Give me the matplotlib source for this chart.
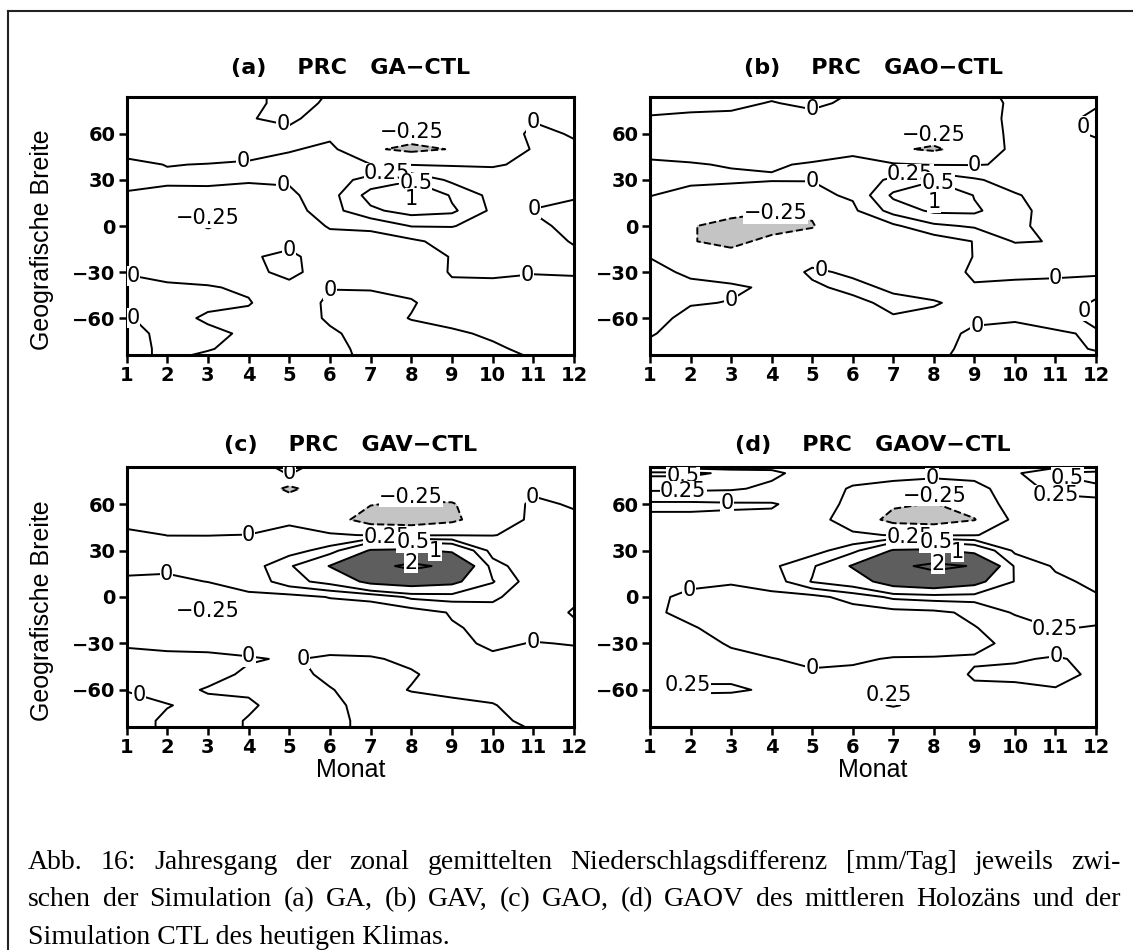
import warnings
import numpy as np
import matplotlib
matplotlib.use('Agg')
import matplotlib.pyplot as plt
from matplotlib.lines import Line2D

warnings.filterwarnings('ignore')

W, H = 1133, 950

months = list(range(1, 13))
lats = [84, 80, 70, 60, 50, 40, 30, 20, 10, 0, -10, -20, -30, -40, -50, -60, -70, -80, -84]

# PRC differences [mm/Tag], one list per month (Jan..Dec), latitudes from north to south
prc_ga = [
    [-0.05, -0.05, -0.05, -0.08, -0.06, 0.04, 0.08, -0.03, -0.08, -0.12, -0.1, -0.08, -0.01, 0.05, 0.06, -0.01, -0.05, -0.05, -0.05],
    [-0.05, -0.05, -0.06, -0.08, -0.07, -0.005, 0.03, -0.05, -0.12, -0.18, -0.14, -0.1, -0.04, 0.02, 0.06, 0.05, 0.04, 0.03, 0.03],
    [-0.05, -0.05, -0.06, -0.08, -0.08, 0.005, 0.04, -0.06, -0.18, -0.26, -0.2, -0.14, -0.06, 0.01, 0.03, -0.02, 0.03, 0.01, -0.02],
    [-0.04, -0.04, -0.01, -0.08, -0.06, 0.02, 0.02, -0.08, -0.15, -0.2, -0.15, -0.02, -0.03, -0.02, 0.01, -0.04, -0.02, -0.05, -0.05],
    [0.05, 0.05, 0.04, -0.05, -0.02, 0.08, 0.03, -0.05, -0.12, -0.15, -0.05, 0.04, 0.03, -0.03, -0.1, -0.08, -0.06, -0.05, -0.05],
    [-0.01, -0.02, -0.1, -0.05, 0.05, 0.1, 0.12, 0.15, 0.15, 0.02, -0.08, -0.1, -0.06, -0.005, 0.03, 0.02, -0.02, -0.04, -0.05],
    [-0.05, -0.05, -0.1, -0.12, -0.22, 0.005, 0.35, 0.6, 0.45, 0.05, -0.1, -0.12, -0.08, -0.01, 0.04, 0.05, 0.05, 0.04, 0.04],
    [-0.05, -0.05, -0.1, -0.15, -0.3, -0.01, 0.45, 1.06, 0.6, 0.26, -0.05, -0.1, -0.08, -0.03, 0.01, -0.005, 0.04, 0.04, 0.04],
    [-0.05, -0.05, -0.1, -0.12, -0.24, -0.02, 0.2, 0.45, 0.55, 0.26, 0.1, 0.01, 0.01, -0.02, -0.06, -0.04, 0.02, 0.04, 0.04],
    [-0.05, -0.05, -0.06, -0.1, -0.1, -0.02, 0.1, 0.18, 0.2, 0.16, 0.1, 0.06, 0.02, -0.03, -0.06, -0.05, -0.02, 0.02, 0.03],
    [-0.05, -0.05, -0.01, 0.03, 0.01, 0.04, 0.08, 0.08, -0.01, 0.05, 0.06, 0.04, 0.005, -0.03, -0.05, -0.05, -0.04, -0.03, -0.01],
    [-0.05, -0.05, -0.05, -0.01, 0.02, 0.04, 0.06, 0.02, -0.05, -0.06, -0.01, 0.03, 0.01, -0.03, -0.05, -0.05, -0.05, -0.05, -0.05],
]

prc_gao = [
    [0.05, 0.04, -0.01, -0.06, -0.06, 0.03, 0.06, 0.005, -0.06, -0.12, -0.1, -0.005, 0.05, 0.08, 0.08, 0.05, 0.01, -0.03, -0.04],
    [0.04, 0.03, -0.02, -0.06, -0.06, 0.01, 0.03, -0.05, -0.15, -0.24, -0.24, -0.15, -0.03, 0.04, 0.01, -0.04, -0.05, -0.05, -0.05],
    [0.03, 0.02, -0.02, -0.06, -0.07, -0.01, 0.03, -0.1, -0.2, -0.3, -0.3, -0.18, -0.06, 0.02, -0.005, -0.05, -0.05, -0.05, -0.05],
    [0.01, -0.005, -0.03, -0.06, -0.07, -0.01, 0.01, -0.12, -0.24, -0.32, -0.2, -0.12, -0.08, -0.02, -0.04, -0.05, -0.05, -0.05, -0.05],
    [0.03, 0.02, -0.03, -0.06, -0.05, 0.01, 0.005, -0.05, -0.23, -0.26, -0.18, -0.05, 0.02, -0.02, -0.05, -0.05, -0.05, -0.05, -0.05],
    [-0.01, -0.02, -0.04, -0.05, -0.04, 0.05, 0.1, 0.03, -0.05, -0.12, -0.1, -0.06, -0.02, 0.03, -0.03, -0.05, -0.05, -0.05, -0.05],
    [-0.05, -0.05, -0.06, -0.12, -0.22, 0.02, 0.3, 0.55, 0.35, -0.05, -0.1, -0.08, -0.04, -0.02, 0.03, -0.01, -0.05, -0.05, -0.05],
    [-0.05, -0.05, -0.08, -0.15, -0.28, -0.01, 0.45, 1.02, 0.55, 0.2, -0.15, -0.1, -0.07, -0.05, 0.01, -0.03, -0.04, -0.03, -0.02],
    [-0.05, -0.05, -0.06, -0.1, -0.15, -0.01, 0.28, 0.48, 0.55, 0.28, 0.01, 0.005, 0.02, -0.01, -0.04, -0.02, 0.02, 0.03, 0.03],
    [0.03, 0.02, 0.03, 0.04, 0.05, 0.02, 0.15, 0.27, 0.3, 0.28, 0.27, 0.05, 0.02, -0.02, -0.05, -0.01, 0.03, 0.03, 0.03],
    [0.03, 0.03, 0.03, 0.03, 0.05, 0.05, 0.1, 0.15, 0.18, 0.2, 0.24, 0.06, 0.02, -0.03, -0.05, -0.03, 0.01, 0.02, 0.02],
    [0.02, 0.01, -0.02, -0.01, 0.03, 0.05, 0.08, 0.1, 0.12, 0.12, 0.1, 0.05, 0.01, -0.03, 0.01, 0.02, -0.01, -0.005, 0.01],
]

prc_gav = [
    [-0.05, -0.05, -0.06, -0.08, -0.06, 0.04, 0.08, 0.05, -0.03, -0.1, -0.12, -0.1, -0.02, 0.05, 0.06, 0.005, -0.04, -0.05, -0.05],
    [-0.05, -0.05, -0.06, -0.08, -0.06, -0.002, 0.06, 0.05, -0.05, -0.15, -0.2, -0.15, -0.03, 0.03, 0.06, 0.04, -0.005, 0.02, 0.02],
    [-0.05, -0.05, -0.06, -0.08, -0.08, -0.002, 0.05, 0.04, 0.005, -0.15, -0.26, -0.18, -0.04, 0.03, 0.04, -0.01, 0.03, 0.03, 0.03],
    [-0.05, -0.05, -0.06, -0.08, -0.06, 0.002, 0.08, 0.12, 0.06, -0.03, -0.18, -0.15, -0.05, 0.01, -0.02, -0.01, 0.01, -0.005, -0.005],
    [0.03, 0.005, -0.3, -0.1, -0.03, 0.05, 0.15, 0.45, 0.4, -0.08, -0.18, -0.15, -0.08, -0.01, -0.03, -0.03, -0.03, -0.03, -0.03],
    [-0.05, -0.06, -0.1, -0.1, -0.15, 0.02, 0.35, 1.02, 0.6, 0.01, -0.12, -0.12, -0.06, 0.02, 0.02, -0.005, -0.02, -0.03, -0.03],
    [-0.05, -0.06, -0.1, -0.24, -0.35, -0.01, 1.05, 1.7, 1.15, 0.05, -0.12, -0.1, -0.05, 0.01, 0.04, 0.04, 0.03, 0.03, 0.03],
    [-0.05, -0.06, -0.1, -0.28, -0.38, -0.02, 1.1, 2.2, 1.3, 0.3, -0.12, -0.1, -0.06, -0.02, 0.01, -0.005, 0.04, 0.04, 0.04],
    [-0.05, -0.06, -0.1, -0.27, -0.3, -0.01, 0.9, 1.8, 1.15, 0.35, 0.02, -0.02, -0.03, -0.01, -0.04, -0.02, 0.02, 0.03, 0.03],
    [-0.05, -0.05, -0.06, -0.08, -0.1, -0.005, 0.15, 0.35, 0.52, 0.3, 0.15, 0.05, 0.02, -0.02, -0.05, -0.03, 0.005, 0.02, 0.02],
    [-0.05, -0.05, -0.02, 0.02, 0.03, 0.04, 0.06, 0.08, 0.1, 0.08, 0.06, 0.04, -0.005, -0.03, -0.05, -0.05, -0.04, -0.02, -0.005],
    [-0.05, -0.05, -0.04, -0.01, 0.02, 0.04, 0.05, 0.05, 0.04, 0.02, -0.01, 0.02, 0.005, -0.03, -0.05, -0.05, -0.05, -0.05, -0.05],
]

prc_gaov = [
    [0.2, 0.55, 0.3, -0.05, 0.05, 0.1, 0.12, 0.1, 0.08, 0.05, 0.04, 0.05, 0.08, 0.1, 0.15, 0.2, 0.15, 0.1, 0.1],
    [0.15, 0.55, 0.3, -0.05, 0.05, 0.1, 0.12, 0.12, 0.05, -0.05, -0.06, 0.02, 0.08, 0.1, 0.2, 0.28, 0.15, 0.1, 0.1],
    [0.1, 0.45, 0.28, -0.03, 0.05, 0.1, 0.12, 0.1, 0.02, -0.08, -0.1, -0.08, -0.02, 0.05, 0.2, 0.28, 0.12, 0.1, 0.1],
    [0.2, 0.3, 0.2, -0.02, 0.05, 0.1, 0.12, 0.2, 0.1, -0.06, -0.12, -0.1, -0.06, 0.005, 0.08, 0.22, 0.1, 0.08, 0.08],
    [0.1, 0.15, 0.1, 0.1, 0.08, 0.1, 0.15, 0.45, 0.52, -0.08, -0.15, -0.12, -0.08, -0.03, 0.02, 0.1, 0.12, 0.1, 0.1],
    [0.1, 0.08, -0.02, -0.05, -0.1, 0.03, 0.4, 1.05, 0.7, 0.1, -0.12, -0.12, -0.08, -0.02, 0.03, 0.15, 0.2, 0.15, 0.12],
    [0.1, 0.05, -0.05, -0.22, -0.32, -0.01, 1.05, 1.8, 1.3, 0.3, -0.08, -0.12, -0.08, 0.01, 0.08, 0.2, 0.26, 0.15, 0.12],
    [0.1, 0.04, -0.08, -0.26, -0.35, -0.02, 1.1, 2.2, 1.5, 0.35, -0.05, -0.12, -0.06, 0.01, 0.1, 0.2, 0.2, 0.15, 0.12],
    [0.1, 0.05, -0.05, -0.15, -0.26, -0.01, 0.8, 1.95, 1.2, 0.35, 0.05, -0.01, -0.05, 0.02, -0.02, 0.03, 0.15, 0.15, 0.12],
    [0.12, 0.2, 0.08, 0.1, 0.05, 0.08, 0.2, 0.45, 0.48, 0.4, 0.28, 0.1, 0.05, 0.02, -0.05, 0.05, 0.15, 0.15, 0.12],
    [0.2, 0.52, 0.35, 0.1, 0.05, 0.08, 0.15, 0.22, 0.3, 0.35, 0.3, 0.26, 0.1, -0.02, -0.05, 0.01, 0.1, 0.1, 0.1],
    [0.2, 0.6, 0.45, 0.1, 0.05, 0.08, 0.12, 0.15, 0.2, 0.27, 0.3, 0.24, 0.1, 0.05, 0.03, 0.05, 0.08, 0.1, 0.1],
]

titles = ['(a)    PRC   GA\u2212CTL', '(b)    PRC   GAO\u2212CTL',
          '(c)    PRC   GAV\u2212CTL', '(d)    PRC   GAOV\u2212CTL']
levels = [-0.25, 0, 0.25, 0.5, 1, 2]

# label positions (level, month, lat, shift of text in lat)
labels_a = [(0, 4.85, 66, 0), (0, 3.87, 40, 0), (0, 4.85, 28, 0), (0, 11.0, 68, 0),
            (0, 11.0, 15, 0), (0, 1.16, -32, 0), (0, 5.0, -15, 0), (0, 1.16, -60, 0),
            (0, 5.96, -40, 0), (0, 10.84, -31, 0),
            (-0.25, 8.0, 54, 8), (-0.25, 3.0, 1, 4),
            (0.25, 7.4, 37, 1), (0.5, 8.15, 31, 0), (1, 8.0, 20, -3)]
labels_b = [(0, 5.0, 75, 0), (0, 5.0, 29, 0), (0, 9.0, 39, 0), (0, 3.0, -48, 0),
            (0, 5.2, -31, 0), (0, 11.0, -33, 0), (0, 9.06, -62, 0), (0, 11.8, -57, 0),
            (0, 11.8, 66, 0),
            (-0.25, 8.0, 52, 7), (-0.25, 4.1, 9, 0),
            (0.25, 7.4, 38, 1), (0.5, 8.15, 32, 0), (1, 8.0, 20, -5)]
labels_c = [(0, 5.0, 82, 0), (0, 4.0, 40.4, 0), (0, 1.98, 14.8, 0), (0, 11.0, 64, 0),
            (0, 4.0, -39, 0), (0, 5.0, -39.6, 0), (0, 1.33, -61, 0), (0, 11.0, -29, 0),
            (-0.25, 8.0, 60, 3), (-0.25, 3.0, -10, 0),
            (0.25, 7.4, 38, 1), (0.5, 8.05, 36, 0), (1, 8.6, 33, 0), (2, 8.0, 21, 0)]
labels_d = [(0, 2.9, 62, 0), (0, 7.95, 77, 0), (0, 1.95, 6, 0), (0, 5.0, -46, 0),
            (0, 11.0, -40, 0),
            (0.5, 1.82, 79, 0), (0.5, 11.3, 78, 0), (0.25, 1.82, 69, 0), (0.25, 11.0, 66, 0),
            (0.25, 11.0, -20, 0), (0.25, 1.9, -55, 0), (0.25, 6.9, -70, 7),
            (-0.25, 8.0, 57, 5),
            (0.25, 7.4, 37, 1), (0.5, 8.05, 35, 0), (1, 8.6, 33, 0), (2, 8.1, 21, 0)]


def fmt(v):
    return ('%g' % v).replace('-', '\u2212')


def rect(l, t, r, b):
    return [l / W, 1 - b / H, (r - l) / W, (b - t) / H]


fig = plt.figure(figsize=(W / 100, H / 100), dpi=100)
fig.patch.set_facecolor('white')

panels = [
    (rect(126.5, 97, 574, 355), prc_ga, titles[0], 68, labels_a, True, False),
    (rect(650, 97, 1096, 355), prc_gao, titles[1], 68, labels_b, False, False),
    (rect(126.5, 467, 574, 727), prc_gav, titles[2], 445, labels_c, True, True),
    (rect(650, 467, 1096, 727), prc_gaov, titles[3], 445, labels_d, False, True),
]

ylat = lats[::-1]
for r, data, title, ty, specs, ylab, xlab in panels:
    ax = fig.add_axes(r)
    z = np.array(data).T[::-1]
    ax.contourf(months, ylat, z, levels=[-10, -0.25], colors=['#c4c4c4'])
    ax.contourf(months, ylat, z, levels=[1, 10], colors=['#5e5e5e'])
    ax.set_xlim(1, 12)
    ax.set_ylim(-84, 84)
    # one contour set per level, so each label goes to its own level
    sets = {}
    for lev in levels:
        sets[lev] = ax.contour(months, ylat, z, levels=[lev], colors='k', linewidths=1.4)
    ax.set_xlim(1, 12)
    ax.set_ylim(-84, 84)
    ax.set_xticks(months)
    ax.set_yticks([-60, -30, 0, 30, 60])
    ax.tick_params(direction='out', length=6, width=1.8, labelsize=14, pad=2,
                   top=False, right=False)
    for lab in ax.get_xticklabels() + ax.get_yticklabels():
        lab.set_fontweight('bold')
    for s in ax.spines.values():
        s.set_linewidth(2.2)

    for lev, x, y, dy in specs:
        before = list(ax.texts)
        try:
            sets[lev].clabel(manual=[(x, y)], inline=False, fmt=fmt, fontsize=15)
        except Exception:
            continue
        for t in ax.texts:
            if t in before:
                continue
            t.set_rotation(0)
            if dy:
                px, py = t.get_position()
                t.set_position((px, py + dy))
            t.set_bbox(dict(facecolor='white', edgecolor='none', pad=0.2))

    cx = (r[0] + r[2] / 2)
    fig.text(cx, 1 - ty / H, title, ha='center', va='center', fontsize=16,
             fontweight='bold')
    if ylab:
        fig.text(42 / W, r[1] + r[3] / 2 - 14 / H, 'Geografische Breite', rotation=90,
                 ha='center', va='center', fontsize=18, family='Liberation Sans')
    if xlab:
        fig.text(cx, 1 - 770 / H, 'Monat', ha='center', va='center', fontsize=18,
                 family='Liberation Sans')

# frame of the figure box
fig.add_artist(Line2D([8 / W, 8 / W], [0, 1 - 11 / H], transform=fig.transFigure,
                      color='#222222', lw=1.5))
fig.add_artist(Line2D([8 / W, 1], [1 - 11 / H, 1 - 11 / H], transform=fig.transFigure,
                      color='#222222', lw=1.5))

caption = [
    'Abb. 16: Jahresgang der zonal gemittelten Niederschlagsdifferenz [mm/Tag] jeweils zwi-',
    'schen der Simulation (a) GA, (b) GAV, (c) GAO, (d) GAOV des mittleren Holozäns und der',
    'Simulation CTL des heutigen Klimas.',
]
renderer = fig.canvas.get_renderer()
for i, (line, base) in enumerate(zip(caption, [869, 906, 944])):
    if i < 2:
        words = line.split()
        ts = [fig.text(0, 1 - base / H, w, fontsize=20, family='Liberation Serif',
                       va='baseline', ha='left') for w in words]
        ws = [t.get_window_extent(renderer).width for t in ts]
        gap = (1121 - 28 - sum(ws)) / (len(ts) - 1)
        x = 28
        for t, w in zip(ts, ws):
            t.set_x(x / W)
            x += w + gap
    else:
        fig.text(28 / W, 1 - base / H, line, fontsize=20, family='Liberation Serif',
                 va='baseline', ha='left')

fig.savefig('out.png', dpi=100)
